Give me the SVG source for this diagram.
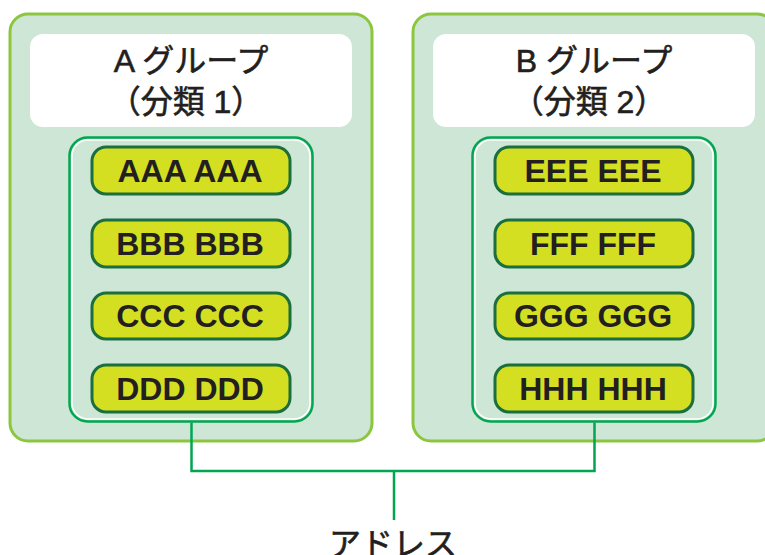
<svg xmlns="http://www.w3.org/2000/svg" width="765" height="555" viewBox="0 0 765 555">
<style>
.outer{fill:#cde6d6;stroke:#8cc63f;stroke-width:3}
.label{fill:#ffffff}
.inner{fill:none;stroke:#00a651;stroke-width:2.5}
.innerw{fill:none;stroke:#ffffff;stroke-width:1.5}
.pill{fill:#d5df22;stroke:#1b6e3e;stroke-width:3}
.ttl{font-family:"Liberation Sans","Noto Sans CJK JP",sans-serif;font-size:32px;fill:#231f20;stroke:#231f20;stroke-width:0.6;text-anchor:middle}
.pt{font-family:"Liberation Sans",Arial,sans-serif;font-weight:bold;font-size:32px;fill:#231f20;text-anchor:middle}
.conn{fill:none;stroke:#00a651;stroke-width:2.5}
</style>
<rect width="765" height="555" fill="#ffffff"/>
<g id="groupA">
<rect class="outer" x="10" y="14" width="362" height="427" rx="18"/>
<rect class="label" x="30" y="34" width="322" height="93" rx="13"/>
<text class="ttl" x="191" y="72">A グループ</text>
<text class="ttl" x="186" y="113">（分類 1）</text>
<rect class="inner" x="69.5" y="137.5" width="243" height="284" rx="18"/>
<rect class="innerw" x="72" y="140" width="238" height="279" rx="16"/>
</g>
<g id="nodeA"><rect class="pill" x="92" y="147" width="198" height="47" rx="14"/><text class="pt" x="190" y="182">AAA AAA</text></g>
<g id="nodeB"><rect class="pill" x="92" y="220" width="198" height="47" rx="14"/><text class="pt" x="190" y="255">BBB BBB</text></g>
<g id="nodeC"><rect class="pill" x="92" y="293" width="198" height="46" rx="14"/><text class="pt" x="190" y="327">CCC CCC</text></g>
<g id="nodeD"><rect class="pill" x="92" y="365" width="198" height="47" rx="14"/><text class="pt" x="190" y="400">DDD DDD</text></g>
<g id="groupB">
<rect class="outer" x="413" y="14" width="362" height="427" rx="18"/>
<rect class="label" x="433" y="34" width="322" height="93" rx="13"/>
<text class="ttl" x="594" y="72">B グループ</text>
<text class="ttl" x="589" y="113">（分類 2）</text>
<rect class="inner" x="472.5" y="137.5" width="243" height="284" rx="18"/>
<rect class="innerw" x="475" y="140" width="238" height="279" rx="16"/>
</g>
<g id="nodeE"><rect class="pill" x="495" y="147" width="198" height="47" rx="14"/><text class="pt" x="593" y="182">EEE EEE</text></g>
<g id="nodeF"><rect class="pill" x="495" y="220" width="198" height="47" rx="14"/><text class="pt" x="593" y="255">FFF FFF</text></g>
<g id="nodeG"><rect class="pill" x="495" y="293" width="198" height="46" rx="14"/><text class="pt" x="593" y="327">GGG GGG</text></g>
<g id="nodeH"><rect class="pill" x="495" y="365" width="198" height="47" rx="14"/><text class="pt" x="593" y="400">HHH HHH</text></g>
<g id="connectors">
<path class="conn" d="M191.5 422.5 V471 H594.5 V422.5"/>
<path class="conn" d="M394 471 V520"/>
</g>
<g id="address">
<text class="ttl" x="393" y="555">アドレス</text>
</g>
</svg>
